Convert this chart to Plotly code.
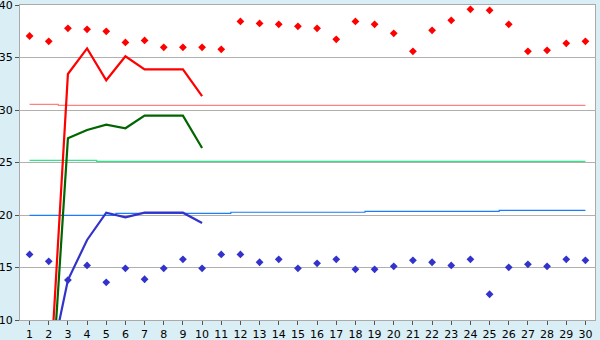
import plotly.graph_objects as go

days = list(range(1, 31))

# scatter points (upper, red)
upper_pts = [37.05, 36.54, 37.78, 37.68, 37.49, 36.44, 36.63, 35.97, 35.97, 35.97,
             35.78, 38.44, 38.25, 38.16, 37.97, 37.78, 36.73, 38.44, 38.16, 37.30,
             35.59, 37.59, 38.54, 39.59, 39.49, 38.16, 35.59, 35.68, 36.35, 36.54]
# scatter points (lower, blue)
lower_pts = [16.25, 15.59, 13.80, 15.20, 13.59, 14.92, 13.88, 14.92, 15.78, 14.92,
             16.25, 16.25, 15.50, 15.78, 14.92, 15.40, 15.78, 14.83, 14.83, 15.11,
             15.68, 15.50, 15.20, 15.78, 12.45, 15.02, 15.30, 15.11, 15.78, 15.68]

# short lines (days 2..10)
line_days = list(range(2, 11))
red_line = [2.2, 33.43, 35.87, 32.83, 35.11, 33.87, 33.87, 33.87, 31.33]
green_line = [-1.0, 27.30, 28.10, 28.60, 28.26, 29.46, 29.46, 29.46, 26.38]
blue_line = [5.1, 13.80, 17.62, 20.22, 19.78, 20.22, 20.22, 20.22, 19.24]

# reference step lines
pink_ref = [30.54] * 2 + [30.44] * 28
green_ref = [25.20] * 4 + [25.11] * 26
blue_ref = [19.97] * 5 + [20.16] * 6 + [20.26] * 7 + [20.35] * 7 + [20.44] * 5

fig = go.Figure()

for vals, col in [(pink_ref, "#ff8080"), (green_ref, "#33e388"), (blue_ref, "#1a7cff")]:
    fig.add_trace(go.Scatter(x=days, y=vals, mode="lines",
                             line=dict(color=col, width=1.2, shape="hvh"),
                             hoverinfo="skip", showlegend=False))

for vals, col in [(blue_line, "#3333cc"), (green_line, "#006600"), (red_line, "#ff0000")]:
    fig.add_trace(go.Scatter(x=line_days, y=vals, mode="lines",
                             line=dict(color=col, width=2.2),
                             showlegend=False))

fig.add_trace(go.Scatter(x=days, y=upper_pts, mode="markers",
                         marker=dict(symbol="diamond", size=6, color="#ff0000"),
                         showlegend=False, cliponaxis=True))
fig.add_trace(go.Scatter(x=days, y=lower_pts, mode="markers",
                         marker=dict(symbol="diamond", size=6, color="#3333cc"),
                         showlegend=False, cliponaxis=True))

axis_common = dict(showline=True, linecolor="#aaaaaa", linewidth=1, mirror=True,
                   gridcolor="#b0b0b0", gridwidth=1, zeroline=False,
                   ticks="outside", tickcolor="#555555", ticklen=4, tickwidth=1,
                   automargin=False, ticklabeloverflow="allow",
                   tickfont=dict(family="DejaVu Sans", size=11, color="#000000"))

fig.update_layout(
    width=600, height=340,
    margin=dict(l=20, r=5, t=5, b=20),
    paper_bgcolor="#d9eef5",
    plot_bgcolor="#ffffff",
    showlegend=False,
    xaxis=dict(range=[0.5, 30.5], tickmode="array", tickvals=days,
               ticktext=[str(d) for d in days], showgrid=False, **axis_common),
    yaxis=dict(range=[10, 40], tickmode="linear", tick0=10, dtick=5,
               showgrid=True, **axis_common),
)

fig.write_html("out.html")
